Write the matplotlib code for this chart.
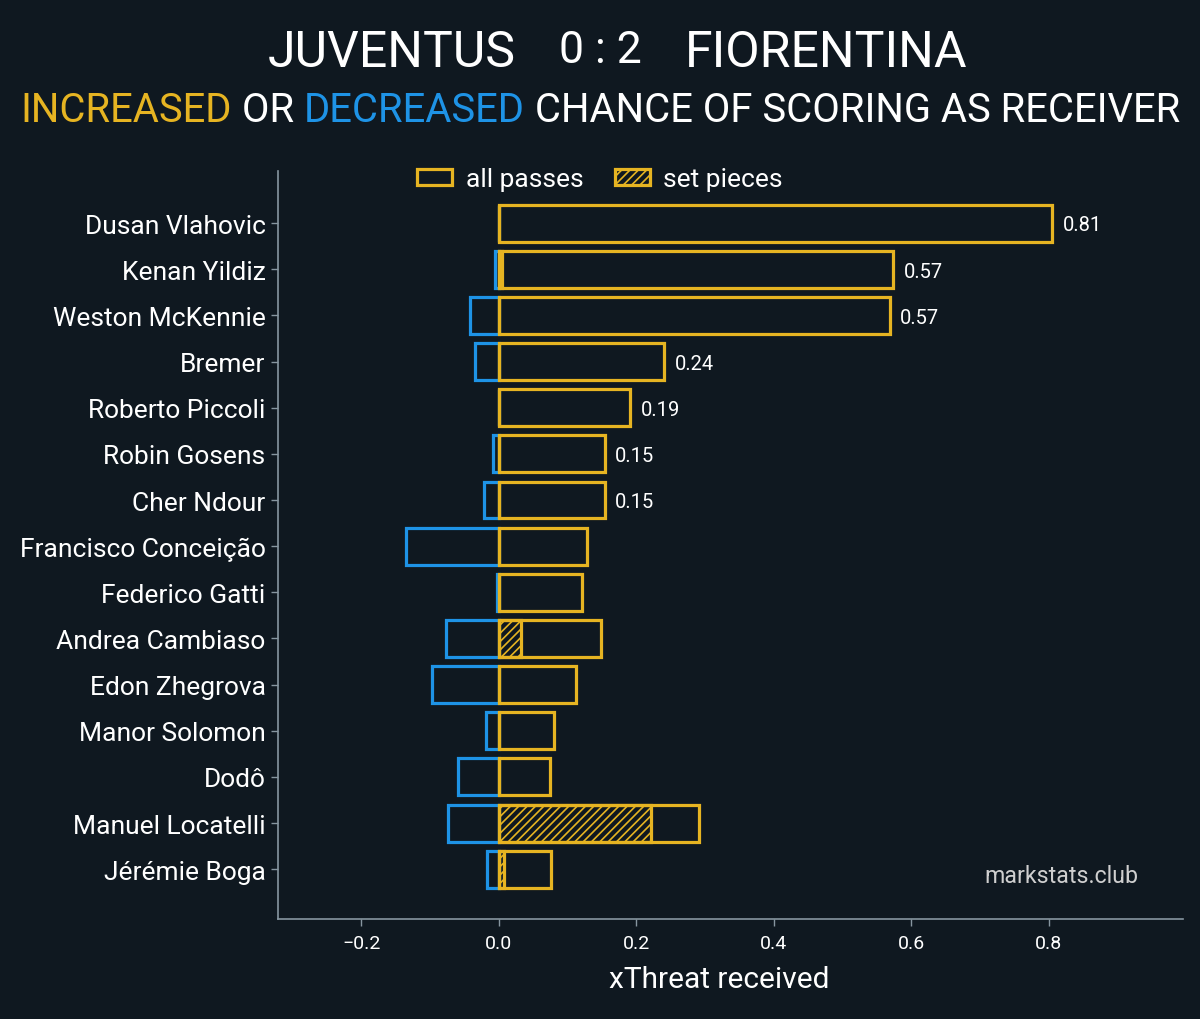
import matplotlib.pyplot as plt
import numpy as np

players = ["Dusan Vlahovic", "Kenan Yildiz", "Weston McKennie", "Bremer",
           "Roberto Piccoli", "Robin Gosens", "Cher Ndour", "Francisco Conceição",
           "Federico Gatti", "Andrea Cambiaso", "Edon Zhegrova", "Manor Solomon",
           "Dodô", "Manuel Locatelli", "Jérémie Boga"]
all_passes = [0.805, 0.574, 0.569, 0.241, 0.191, 0.154, 0.154, 0.129,
              0.121, 0.148, 0.113, 0.080, 0.074, 0.291, 0.076]
set_pieces = [0.0, 0.004, 0.0, 0.0, 0.0, 0.0, 0.0, 0.0,
              0.0, 0.033, 0.0, 0.0, 0.0, 0.221, 0.008]
decreased = [0.0, -0.006, -0.042, -0.035, 0.0, -0.009, -0.022, -0.135,
             -0.003, -0.077, -0.097, -0.019, -0.060, -0.074, -0.017]
x_ticks = [-0.2, 0.0, 0.2, 0.4, 0.6, 0.8]
n_labelled = 7  # only the top rows get a value label

BG = "#0f1820"
GOLD = "#e6b422"
BLUE = "#1e93e6"
GREY = "#8796a0"

plt.rcParams['font.family'] = ['Roboto', 'DejaVu Sans']
plt.rcParams['hatch.linewidth'] = 1.2

fig = plt.figure(figsize=(12, 10.2), dpi=100, facecolor=BG)
ax = fig.add_axes([0.2317, 0.098, 0.7541, 0.7334], facecolor=BG)

y = np.arange(len(players))
h = 0.8
lw = 2.3

ax.barh(y, decreased, height=h, fill=False, edgecolor=BLUE, linewidth=lw)
ax.barh(y, all_passes, height=h, fill=False, edgecolor=GOLD, linewidth=lw,
        label="all passes")
ax.barh(y, set_pieces, height=h, fill=False, edgecolor=GOLD, linewidth=lw,
        hatch="////", label="set pieces")

for i, v in enumerate(all_passes[:n_labelled]):
    ax.text(v + 0.015, i + 0.04, f"{v:.2f}", color="white", fontsize=14.5,
            va="center", ha="left")

ax.set_xlim(-0.321, 0.995)
ax.set_ylim(len(players) - 1 + 1.08, -1.13)
ax.set_yticks(y)
ax.set_yticklabels(players, fontsize=19, color="white")
ax.set_xticks(x_ticks)
ax.set_xticklabels([f"{t:.1f}".replace("-", "\u2212") for t in x_ticks],
                   fontsize=14, color="white")
ax.tick_params(axis="both", colors=GREY, length=5, width=1)
ax.tick_params(axis="x", labelcolor="white", pad=6)
ax.tick_params(axis="y", labelcolor="white", pad=4)
for s in ["top", "right"]:
    ax.spines[s].set_visible(False)
for s in ["left", "bottom"]:
    ax.spines[s].set_color(GREY)
    ax.spines[s].set_linewidth(1.2)
ax.set_xlabel("xThreat received", fontsize=21.5, color="white")
ax.xaxis.set_label_coords(0.488, -0.061)

ax.text(0.951, 0.058, "markstats.club", transform=ax.transAxes, ha="right",
        va="center", fontsize=16.7, color="#cfcfcf")

fig.legend(loc="center", bbox_to_anchor=(0.5, 0.8235), ncol=2, frameon=False,
           fontsize=19, labelcolor="white", handlelength=1.33, handleheight=0.55,
           columnspacing=1.2, handletextpad=0.5)

# title
fig.text(0.43, 0.948, "JUVENTUS", ha="right", va="center", fontsize=36, color="white")
fig.text(0.5, 0.950, "0 : 2", ha="center", va="center", fontsize=32, color="white")
fig.text(0.571, 0.948, "FIORENTINA", ha="left", va="center", fontsize=36, color="white")

# subtitle with coloured words
parts = [("INCREASED", GOLD), (" OR ", "white"), ("DECREASED", BLUE),
         (" CHANCE OF SCORING AS RECEIVER", "white")]
fig.canvas.draw()
r = fig.canvas.get_renderer()
texts = []
for s, c in parts:
    t = fig.text(0, 0.892, s, ha="left", va="center", fontsize=28.8, color=c)
    texts.append(t)
widths = [t.get_window_extent(r).width for t in texts]
total = sum(widths)
x0 = (fig.bbox.width - total) / 2
for t, w in zip(texts, widths):
    t.set_x(x0 / fig.bbox.width)
    x0 += w

fig.savefig("out.png", dpi=100, facecolor=BG)
